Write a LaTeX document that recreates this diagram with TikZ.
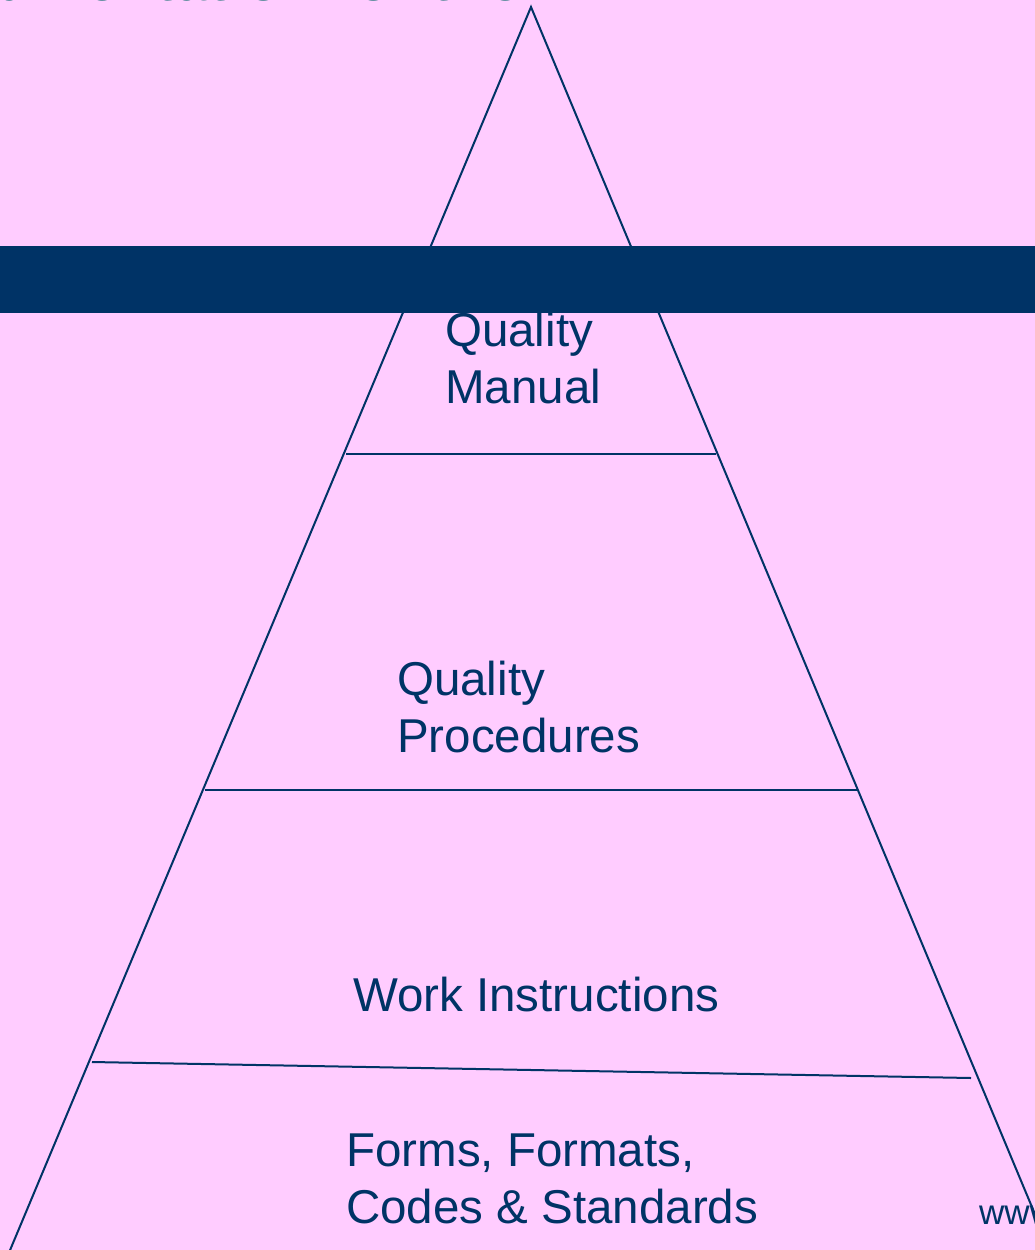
\documentclass[tikz,border=0pt]{standalone}
\usepackage{fontspec}
\setmainfont{Liberation Sans}
\definecolor{bgpink}{HTML}{FFCCFF}
\definecolor{navy}{HTML}{003366}
\definecolor{teal}{HTML}{006666}
\begin{document}
\begin{tikzpicture}[x=1pt,y=-1pt,
  edge/.style={draw=navy,line width=2pt},
  label/.style={anchor=base west,inner sep=0pt,text=navy,align=left,
    font=\fontsize{47.5}{57}\selectfont}]
\useasboundingbox (0,0) rectangle (1035,1250);
\fill[bgpink] (0,0) rectangle (1035,1250);
\begin{scope}
\clip (0,0) rectangle (1035,1250);
% title, cut off at top
\node[anchor=base east,inner sep=0pt,text=teal,font=\fontsize{60}{72}\selectfont\bfseries] (title) at (522,0) {Documentation for the};
% triangle
\coordinate (apex) at (531,7);
\coordinate (bl) at (8,1255);
\coordinate (br) at (1052,1255);
\draw[edge] (bl) -- (apex) -- (br);
\coordinate (l1) at (346,454); \coordinate (r1) at (716,454);
\coordinate (l2) at (205,790); \coordinate (r2) at (858,790);
\coordinate (l3) at (92,1062); \coordinate (r3) at (971,1078);
\draw[edge] (l1) -- (r1);
\draw[edge] (l2) -- (r2);
\draw[edge] (l3) -- (r3);
% band
\fill[navy] (0,246) rectangle (1035,313);
% labels (anchor = baseline of last line)
\node[label] (qm) at (445,403) {Quality\\Manual};
\node[label] (qp) at (397,752) {Quality\\Procedures};
\node[label] (wi) at (353,1011) {Work Instructions};
\node[label] (ff) at (346,1223) {Forms, Formats,\\Codes \& Standards};
\node[anchor=base west,inner sep=0pt,text=navy,font=\fontsize{35}{42}\selectfont] (www) at (979,1224) {www};
\end{scope}
\end{tikzpicture}
\end{document}
